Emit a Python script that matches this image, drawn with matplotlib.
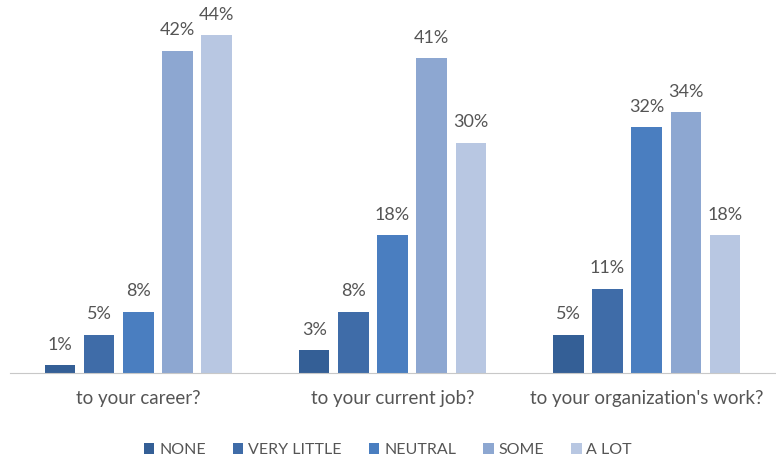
import matplotlib.pyplot as plt
import numpy as np

plt.rcParams['font.family'] = ['Lato', 'DejaVu Sans']

questions = ['to your career?', 'to your current job?', "to your organization's work?"]
levels = ['NONE', 'VERY LITTLE', 'NEUTRAL', 'SOME', 'A LOT']
none_vals = [1, 3, 5]
very_little_vals = [5, 8, 11]
neutral_vals = [8, 18, 32]
some_vals = [42, 41, 34]
a_lot_vals = [44, 30, 18]
series = [none_vals, very_little_vals, neutral_vals, some_vals, a_lot_vals]
colors = ['#345f96', '#3f6ca8', '#4a7ec0', '#8da7d1', '#b8c7e2']

fig = plt.figure(figsize=(7.76, 4.65), dpi=100)
ax = fig.add_axes([10 / 776, 92 / 465, 765 / 776, 350 / 465])

x = np.arange(len(questions))
step = 0.154
width = 0.12
for i, (vals, c) in enumerate(zip(series, colors)):
    pos = x + (i - 2) * step
    bars = ax.bar(pos, vals, width=width, color=c, label=levels[i])
    for b, v in zip(bars, vals):
        ax.text(b.get_x() + b.get_width() / 2, v + 1.6, f'{v}%', ha='center', va='bottom',
                fontsize=13, color='#555555')

ax.set_xlim(-0.505, 2.505)
ax.set_ylim(0, 45.6)
ax.set_yticks([])
ax.set_xticks(x)
ax.set_xticklabels(questions, fontsize=13.5, color='#555555')
ax.tick_params(axis='x', length=0, pad=12)
for s in ['top', 'right', 'left']:
    ax.spines[s].set_visible(False)
ax.spines['bottom'].set_color('#c8c8c8')

fig.legend(loc='center', bbox_to_anchor=(0.5, 1 - 450 / 465), ncol=5, frameon=False,
           fontsize=11.5, handlelength=0.65, handleheight=0.65, handletextpad=0.3,
           columnspacing=1.7, labelcolor='#555555')

fig.savefig('out.png', dpi=100)
